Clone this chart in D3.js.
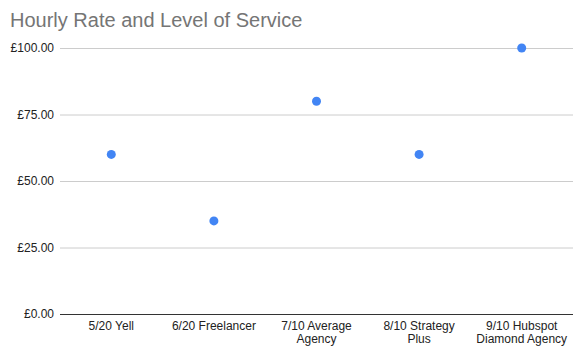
<!DOCTYPE html>
<html><head><meta charset="utf-8">
<script src="https://cdn.jsdelivr.net/npm/d3@7"></script>
<style>body{margin:0;background:#fff;font-family:Arial,"Liberation Sans",sans-serif;}</style>
</head><body><svg id="c" width="584" height="354"></svg>
<script>
const categories = [["5/20 Yell"],["6/20 Freelancer"],["7/10 Average","Agency"],["8/10 Strategy","Plus"],["9/10 Hubspot","Diamond Agency"]];
const values = [60, 35, 80, 60, 100];
const yTicks = [0, 25, 50, 75, 100];
const title = "Hourly Rate and Level of Service";

const svg = d3.select("#c");
const m = {l:60, r:573, t:48, b:314};
const x = d3.scaleBand().domain(d3.range(categories.length)).range([m.l, m.r]);
const y = d3.scaleLinear().domain([0,100]).range([m.b, m.t]);

svg.append("rect").attr("width",584).attr("height",354).attr("fill","#fff");
svg.append("text").attr("x",10).attr("y",27).attr("font-size",20).attr("fill","#757575").text(title);

const ya = svg.append("g").attr("transform",`translate(${m.l},0)`)
  .call(d3.axisLeft(y).tickValues(yTicks).tickSize(-(m.r-m.l)).tickPadding(6).tickFormat(d=>"£"+d.toFixed(2)));
ya.select(".domain").remove();
ya.selectAll(".tick line").attr("stroke",d=>d===0?"#333":"#ccc").attr("stroke-width",1);
ya.selectAll(".tick text").attr("font-size",12).attr("fill","#222").attr("font-family","Arial,'Liberation Sans',sans-serif");
ya.selectAll(".tick").filter(d=>d===0).raise();

const xa = svg.append("g");
categories.forEach((lines,i)=>{
  const t = xa.append("text").attr("x",x(i)+x.bandwidth()/2).attr("y",330).attr("text-anchor","middle")
    .attr("font-size",12).attr("fill","#222");
  lines.forEach((ln,j)=>t.append("tspan").attr("x",x(i)+x.bandwidth()/2).attr("dy",j===0?0:12.5).text(ln));
});

svg.append("g").selectAll("circle").data(values).join("circle")
  .attr("cx",(d,i)=>x(i)+x.bandwidth()/2).attr("cy",d=>y(d)).attr("r",4.5).attr("fill","#4285F4");
</script></body></html>
